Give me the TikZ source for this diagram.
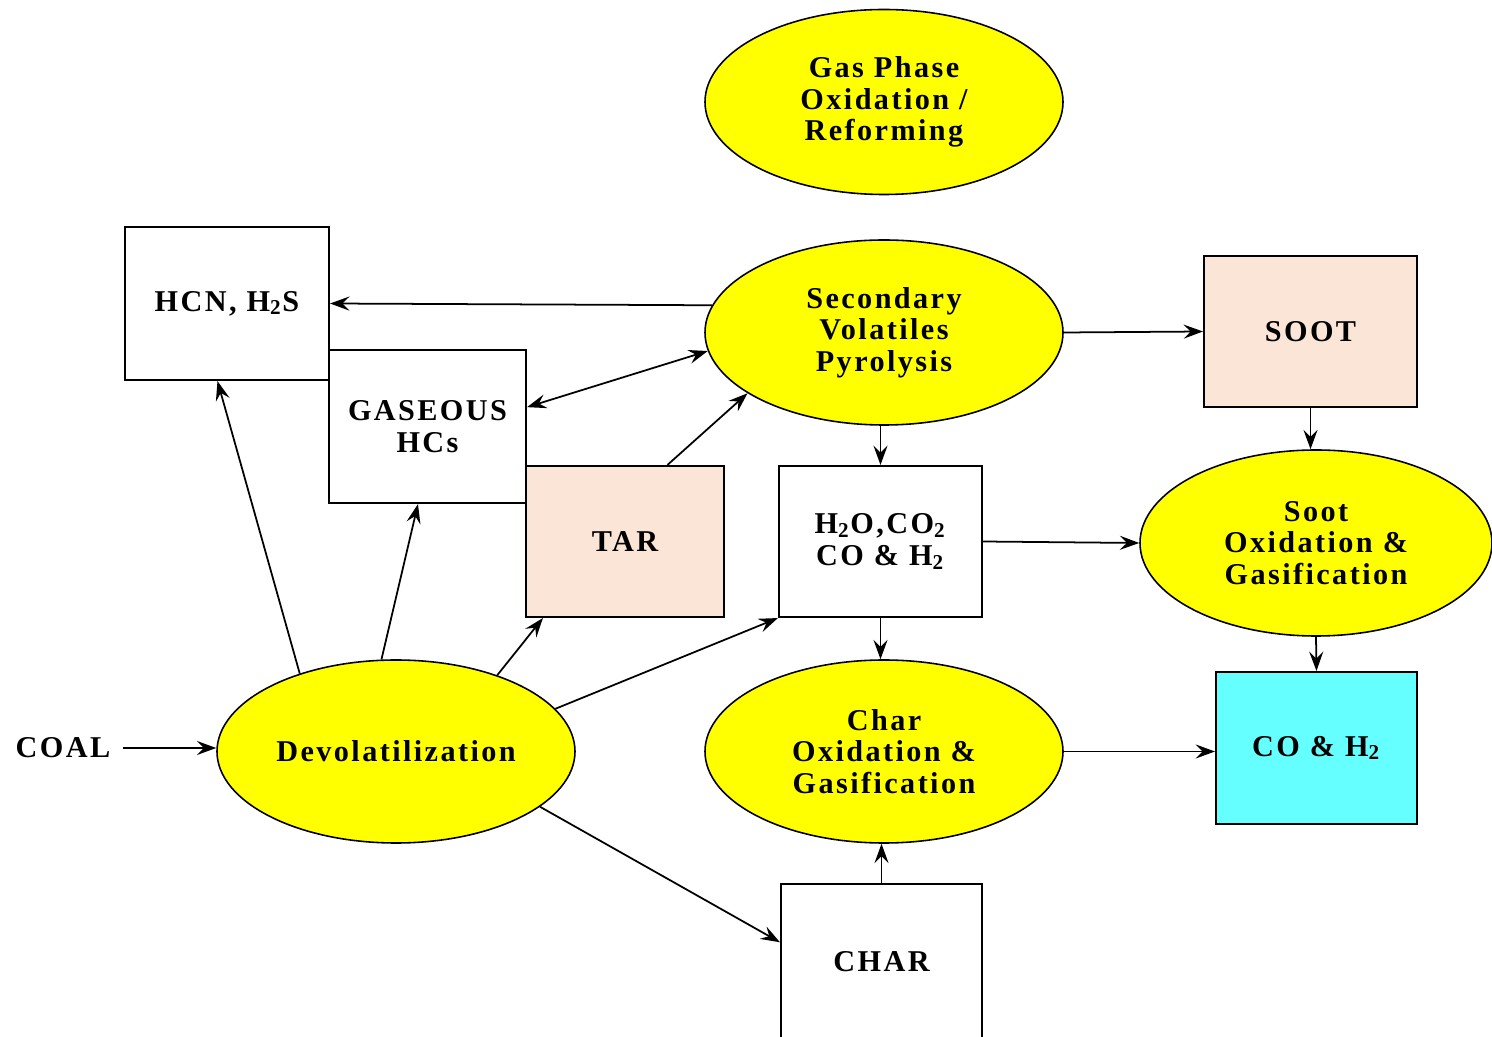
\documentclass[tikz,border=0pt]{standalone}
\usepackage{fontspec}
\setmainfont{Liberation Serif}[LetterSpace=8]
\usetikzlibrary{shapes.geometric,arrows.meta}
\definecolor{peach}{RGB}{251,229,214}
\definecolor{aqua}{RGB}{102,255,255}
\definecolor{lemon}{RGB}{255,255,0}
\newcommand\nodefont{\fontsize{8.6}{9}\selectfont\bfseries}
\begin{document}
\begin{tikzpicture}[
  proc/.style={ellipse, draw=black, fill=lemon, line width=0.45pt, minimum width=3.58cm, minimum height=1.85cm, inner sep=0pt, align=center, font=\nodefont},
  box/.style={rectangle, draw=black, fill=white, line width=0.6pt, inner sep=0pt, align=center, font=\nodefont},
  arr/.style={line width=0.5pt, -{Stealth[length=5.5pt,width=4pt,inset=2pt]}}
]
\useasboundingbox (0,0) rectangle (14.92,10.36);
\clip (0,0) rectangle (14.92,10.36);
% reactions
\node[proc] (gas) at (8.84,9.34) {Gas Phase\\Oxidation /\\Reforming};
\node[proc] (secondary) at (8.84,7.035) {Secondary\\Volatiles\\Pyrolysis};
\node[proc, minimum width=3.52cm, minimum height=1.86cm] (sootox) at (13.16,4.93) {Soot\\Oxidation \&\\Gasification};
\node[proc, minimum height=1.83cm] (devol) at (3.96,2.845) {Devolatilization};
\node[proc, minimum height=1.83cm] (charox) at (8.84,2.845) {Char\\Oxidation \&\\Gasification};
% species
\node[box, minimum width=2.04cm, minimum height=1.53cm] (hcn) at (2.27,7.325) {HCN, H\textsubscript{2}S};
\node[box, minimum width=1.97cm, minimum height=1.53cm] (gaseous) at (4.275,6.095) {GASEOUS\\HCs};
\node[box, fill=peach, minimum width=1.98cm, minimum height=1.51cm] (tar) at (6.25,4.945) {TAR};
\node[box, fill=peach, minimum width=2.13cm, minimum height=1.51cm] (soot) at (13.105,7.045) {SOOT};
\node[box, minimum width=2.03cm, minimum height=1.51cm] (mix) at (8.805,4.945) {H\textsubscript{2}O,CO\textsubscript{2}\\CO \& H\textsubscript{2}};
\node[box, fill=aqua, minimum width=2.01cm, minimum height=1.52cm] (syngas) at (13.165,2.88) {CO \& H\textsubscript{2}};
\node[box, minimum width=2.01cm, minimum height=1.56cm] (char) at (8.815,0.74) {CHAR};
\node[font=\nodefont] (coal) at (0.63,2.88) {COAL};
% flows
\draw[arr] (coal.east) -- (devol.west |- coal.east);
\draw[arr] (devol.141.8) -- (hcn.263);
\draw[arr] (devol.99.3) -- (gaseous.263);
\draw[arr] (devol.37.4) -- (tar.223.7);
\draw[arr] (devol.15.1) -- (mix.south west);
\draw[arr] (devol.339.5) -- (char.169);
\draw[arr] (secondary.171.9) -- (hcn.east);
\draw[{Stealth[length=5.5pt,width=4pt,inset=2pt]}-{Stealth[length=5.5pt,width=4pt,inset=2pt]}, line width=0.5pt] (gaseous.11.2) -- (secondary.186.1);
\draw[arr] (tar.61) -- (secondary.204.7);
\draw[arr] (secondary.south -| mix.north) -- (mix.north);
\draw[arr] (secondary.east) -- (soot.west);
\draw[arr] (soot.south) -- (soot.south |- sootox.north);
\draw[arr] (mix.east) -- (sootox.west);
\draw[arr] (mix.south) -- (mix.south |- charox.north);
\draw[arr] (sootox.south) -- (syngas.north);
\draw[arr] (charox.east) -- (syngas.west |- charox.east);
\draw[arr] (char.north) -- (char.north |- charox.south);
\end{tikzpicture}
\end{document}
